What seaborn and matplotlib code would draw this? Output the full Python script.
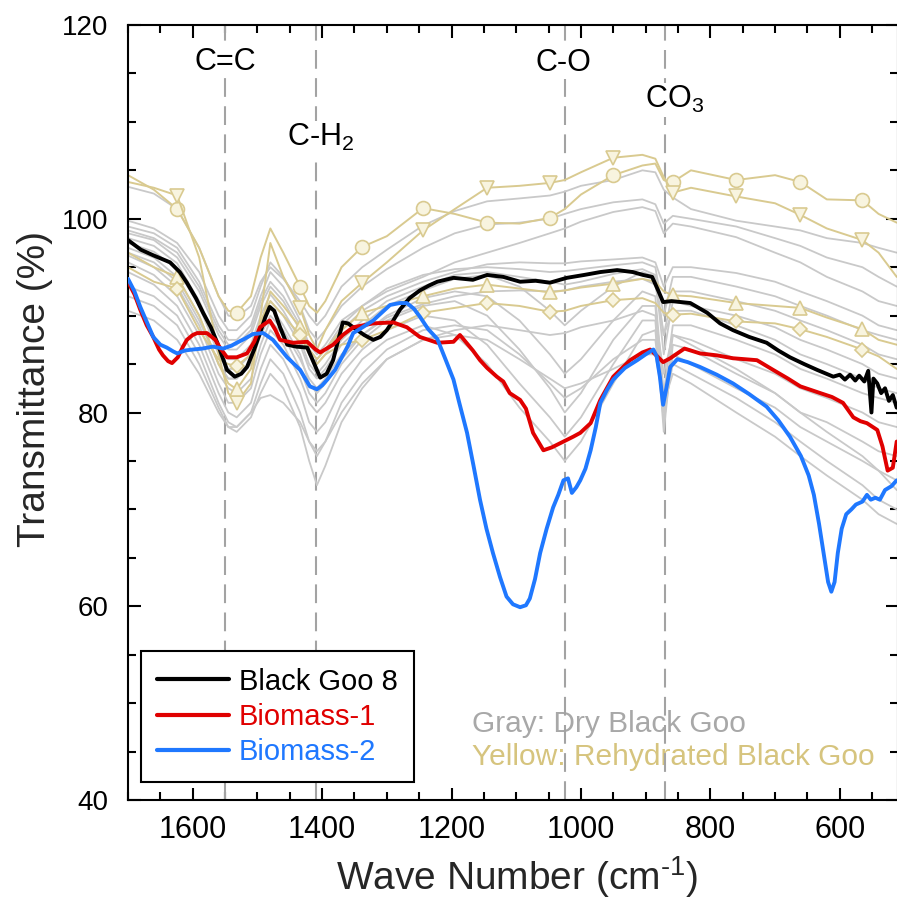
import matplotlib
matplotlib.use('Agg')
import matplotlib.pyplot as plt
from matplotlib import font_manager
from matplotlib.lines import Line2D
from matplotlib.ticker import MultipleLocator
import seaborn as sns

# wavenumber grid shared by the dry / rehydrated background spectra
wn = [1700, 1660, 1624, 1590, 1560, 1545, 1532, 1510, 1495, 1480, 1460, 1434, 1420, 1408, 1395, 1370,
      1338, 1300, 1244, 1195, 1145, 1095, 1048, 1025, 1000, 950, 905, 885, 872, 858, 830, 760, 700,
      661, 620, 565, 540, 512]
marker_wn = [1624, 1532, 1434, 1338, 1244, 1145, 1048, 950, 858, 760, 661, 565]

# Gray: dry black goo
dry_1 = [103.3, 102.6, 101.0, 97.0, 92.0, 90.0, 89.8, 91.0, 93.5, 95.0, 93.8, 91.5, 90.0, 89.0, 90.0, 93.0, 95.0, 96.8, 99.3, 100.8,
         101.8, 102.1, 102.4, 102.8, 103.4, 104.0, 105.0, 104.8, 103.0, 102.2, 101.0, 99.8, 99.2, 98.8, 98.0, 97.5, 97.0, 96.5]
dry_2 = [99.8, 99.0, 97.5, 94.5, 90.0, 88.5, 88.5, 90.0, 93.0, 95.5, 94.0, 91.0, 88.5, 87.5, 88.5, 91.0, 93.0, 94.8, 97.0, 98.5,
         99.4, 99.6, 100.0, 100.5, 101.0, 101.7, 102.0, 101.5, 99.5, 100.3, 100.0, 99.2, 98.0, 97.2, 96.0, 95.0, 94.0, 93.0]
dry_3 = [99.2, 98.5, 97.0, 93.5, 89.0, 87.5, 87.5, 89.0, 92.0, 94.5, 93.0, 89.5, 87.0, 86.0, 87.0, 89.5, 91.0, 92.5, 94.0, 95.5,
         96.5, 97.5, 98.5, 99.0, 99.7, 100.7, 101.2, 100.8, 98.5, 99.5, 99.2, 98.1, 96.5, 95.5, 94.0, 92.5, 91.5, 91.0]
dry_4 = [98.5, 97.8, 96.0, 92.5, 88.0, 86.5, 86.5, 88.0, 91.0, 93.0, 91.5, 88.5, 86.0, 85.0, 86.0, 88.5, 90.5, 92.0, 93.5, 94.5,
         95.3, 95.5, 95.4, 95.4, 95.6, 95.8, 96.0, 95.5, 93.0, 95.0, 95.0, 94.4, 93.5, 92.5, 91.5, 90.0, 89.0, 88.5]
dry_5 = [98.8, 98.0, 96.5, 93.0, 88.5, 87.0, 87.0, 88.5, 91.5, 93.5, 92.0, 89.0, 86.5, 85.5, 86.5, 89.0, 91.0, 92.8, 94.2, 94.8,
         95.0, 94.8, 94.5, 94.6, 94.8, 95.2, 95.5, 95.0, 90.0, 94.0, 94.0, 93.0, 92.0, 91.0, 90.0, 88.5, 88.0, 87.5]
dry_6 = [98.0, 97.2, 95.4, 91.5, 87.0, 85.5, 85.5, 87.0, 90.0, 92.2, 90.5, 87.5, 85.0, 84.0, 85.0, 87.5, 89.5, 91.5, 93.0, 94.2,
         94.5, 94.0, 93.5, 93.2, 93.5, 94.3, 94.8, 94.2, 88.0, 92.5, 92.5, 91.5, 90.5, 89.5, 88.5, 87.0, 86.0, 85.5]
dry_7 = [97.5, 96.6, 94.8, 91.0, 86.0, 84.5, 84.5, 86.0, 89.0, 91.5, 90.0, 87.0, 84.5, 83.5, 84.5, 87.0, 89.0, 91.0, 92.6, 93.8,
         94.2, 93.0, 90.5, 89.0, 90.5, 93.0, 94.5, 94.0, 86.0, 91.5, 91.0, 90.0, 88.8, 87.5, 86.5, 85.0, 84.0, 83.5]
dry_8 = [96.5, 95.5, 93.5, 89.5, 85.0, 83.5, 83.5, 85.0, 88.0, 90.0, 88.5, 85.5, 83.5, 82.5, 83.5, 86.0, 88.0, 89.8, 91.2, 92.0,
         92.5, 92.6, 92.5, 92.6, 93.0, 93.5, 93.8, 93.2, 88.0, 90.5, 90.5, 89.0, 87.5, 86.0, 85.0, 83.5, 82.5, 82.0]
dry_9 = [97.0, 96.0, 94.0, 90.0, 85.0, 83.5, 83.5, 85.0, 88.5, 91.0, 89.0, 86.0, 83.0, 82.0, 83.0, 85.5, 88.0, 90.0, 91.8, 92.5,
         92.0, 89.5, 86.0, 84.0, 85.5, 89.5, 92.5, 92.0, 82.0, 89.0, 89.0, 87.5, 86.0, 84.5, 83.5, 82.0, 81.5, 81.0]
dry_10 = [96.2, 95.0, 93.0, 89.0, 84.0, 82.5, 82.0, 83.5, 87.0, 89.5, 88.0, 84.5, 82.0, 81.0, 82.0, 85.0, 87.5, 89.5, 91.0, 91.5,
          90.0, 86.5, 82.5, 80.0, 82.0, 87.5, 91.0, 91.0, 80.0, 88.0, 87.5, 85.5, 84.0, 82.5, 81.5, 80.0, 79.0, 78.5]
dry_11 = [95.5, 94.2, 92.0, 88.0, 83.0, 81.0, 81.0, 82.5, 86.0, 88.5, 87.0, 83.5, 81.0, 80.0, 81.0, 84.0, 86.5, 88.5, 90.0, 89.5,
          87.0, 83.0, 79.5, 77.5, 79.5, 85.0, 89.5, 89.5, 78.0, 87.0, 86.5, 84.0, 82.0, 80.0, 79.0, 77.0, 76.0, 75.5]
dry_12 = [94.5, 93.2, 91.0, 87.0, 82.0, 80.0, 79.5, 81.0, 84.5, 87.0, 85.5, 82.0, 79.0, 78.0, 79.0, 82.5, 85.5, 87.5, 89.0, 88.0,
          85.0, 80.5, 77.0, 75.0, 77.0, 83.0, 88.0, 88.5, 79.0, 86.0, 85.0, 82.5, 80.5, 78.5, 77.0, 75.0, 74.0, 73.0]
dry_13 = [93.0, 92.0, 90.0, 86.0, 81.0, 79.0, 78.5, 80.0, 83.0, 85.5, 84.0, 80.0, 77.0, 75.5, 77.0, 81.0, 84.0, 86.5, 88.5, 89.0,
          88.5, 86.0, 83.0, 81.5, 82.5, 85.5, 87.5, 87.5, 80.0, 85.0, 84.0, 81.5, 79.0, 77.0, 75.0, 72.5, 71.0, 70.0]
dry_14 = [92.0, 91.0, 89.0, 85.0, 80.5, 78.5, 78.0, 79.5, 82.0, 84.0, 82.5, 78.5, 75.0, 72.5, 74.5, 79.0, 82.5, 85.5, 87.5, 88.0,
          87.5, 85.5, 83.5, 82.5, 83.0, 84.5, 86.0, 86.0, 81.0, 84.0, 83.0, 80.0, 77.5, 75.5, 73.5, 71.0, 69.5, 68.5]
dry_15 = [90.5, 89.5, 87.5, 84.0, 80.0, 78.5, 78.5, 80.0, 81.5, 81.8, 81.0, 79.0, 77.0, 76.0, 77.0, 80.0, 83.0, 85.5, 87.5, 88.5,
          89.0, 88.5, 88.0, 88.2, 88.8, 89.5, 90.5, 90.0, 84.0, 88.0, 87.0, 84.5, 82.0, 80.0, 78.0, 75.5, 74.0, 72.0]
dry_curves = [dry_1, dry_2, dry_3, dry_4, dry_5, dry_6, dry_7, dry_8, dry_9, dry_10,
              dry_11, dry_12, dry_13, dry_14, dry_15]

# Yellow: rehydrated black goo (one marker style each)
wet_circle = [104.5, 103.0, 101.0, 97.0, 92.0, 90.5, 90.3, 92.0, 96.0, 99.0, 96.5, 93.0, 91.0, 90.3, 91.5, 95.0, 97.1, 98.2, 101.1, 100.5,
              99.6, 99.5, 100.1, 101.0, 102.5, 104.5, 105.5, 105.7, 104.0, 103.8, 105.0, 104.0, 104.5, 103.8, 102.0, 101.9, 100.5, 99.6]
wet_tri_down = [103.8, 103.2, 102.4, 96.0, 86.0, 82.0, 81.0, 83.0, 90.0, 97.5, 94.0, 90.8, 88.0, 86.5, 88.5, 91.5, 93.4, 95.5, 98.8, 101.0,
                103.2, 103.4, 103.7, 104.0, 104.8, 106.3, 106.6, 106.2, 104.3, 102.7, 103.2, 102.3, 101.6, 100.4, 99.0, 97.8, 96.5, 94.0]
wet_tri_up = [96.5, 95.0, 94.0, 90.0, 85.0, 83.0, 82.4, 84.5, 89.0, 92.5, 91.0, 88.8, 86.5, 85.5, 86.5, 88.5, 90.3, 91.0, 92.0, 92.8,
              93.2, 92.8, 92.4, 92.6, 92.9, 93.3, 93.8, 93.5, 92.5, 92.1, 92.0, 91.3, 91.0, 90.8, 89.8, 88.6, 87.5, 87.0]
wet_diamond = [95.0, 93.5, 92.8, 88.5, 85.5, 85.0, 84.8, 86.0, 89.5, 91.5, 90.0, 88.0, 86.0, 85.0, 86.0, 87.0, 87.5, 88.5, 90.3, 90.8,
               91.3, 91.0, 90.4, 90.5, 91.0, 91.6, 91.8, 91.3, 90.3, 90.1, 90.2, 89.4, 89.2, 88.6, 87.8, 86.5, 85.8, 84.5]

# Black Goo 8
goo8_wn = [1700, 1680, 1660, 1635, 1620, 1609, 1595, 1584, 1572, 1562, 1547, 1535, 1525, 1516, 1505, 1496, 1488, 1481,
           1474, 1465, 1454, 1440, 1423, 1412, 1403, 1393, 1383, 1375, 1368, 1360, 1352, 1335, 1321, 1310, 1300, 1290,
           1280, 1265, 1249, 1235, 1222, 1197, 1167, 1145, 1120, 1094, 1070, 1048, 1022, 995, 970, 944, 920, 904, 890,
           880, 873, 860, 831, 805, 785, 765, 740, 713, 695, 677, 655, 635, 610, 600, 592, 584, 576, 570, 562, 556, 551,
           548, 542, 536, 530, 524, 518, 512]
goo8 = [97.8, 96.8, 96.2, 95.5, 94.5, 93.4, 91.8, 90.3, 88.8, 87.2, 84.4, 83.7, 84.0, 84.7, 86.5, 88.2, 89.8, 90.9,
        90.5, 88.8, 87.0, 86.8, 86.7, 85.0, 83.6, 84.0, 85.4, 87.5, 89.3, 89.2, 88.8, 88.0, 87.5, 87.8, 88.5, 89.5,
        90.6, 91.8, 92.6, 93.1, 93.5, 93.9, 93.7, 94.2, 94.0, 93.5, 93.6, 93.4, 93.9, 94.2, 94.5, 94.7, 94.5, 94.2, 94.0,
        92.5, 91.4, 91.5, 91.3, 90.3, 89.2, 88.5, 87.8, 87.2, 86.4, 85.7, 85.0, 84.4, 83.7, 83.9, 83.4, 83.9, 83.3, 83.8,
        83.2, 84.3, 80.0, 83.5, 83.0, 82.0, 82.5, 81.2, 81.8, 80.5]

# Biomass-1
bio1_wn = [1700, 1690, 1681, 1671, 1661, 1652, 1646, 1638, 1632, 1623, 1615, 1609, 1600, 1593, 1578, 1565, 1558, 1547,
           1532, 1516, 1505, 1496, 1481, 1472, 1465, 1445, 1423, 1410, 1403, 1393, 1383, 1368, 1352, 1321, 1290, 1269,
           1249, 1222, 1197, 1187, 1177, 1167, 1156, 1145, 1130, 1120, 1110, 1094, 1085, 1074, 1058, 1045, 1027, 1012,
           1001, 985, 970, 950, 924, 905, 893, 882, 873, 862, 851, 840, 816, 790, 765, 728, 703, 680, 661, 630, 612, 595,
           579, 568, 558, 542, 534, 526, 518, 512]
bio1 = [93.5, 92.2, 90.6, 89.0, 87.8, 86.5, 85.9, 85.3, 85.1, 85.7, 86.8, 87.5, 88.0, 88.2, 88.2, 87.5, 86.7, 85.7,
        85.7, 86.1, 87.3, 88.8, 89.5, 88.5, 87.5, 87.2, 87.3, 86.5, 86.2, 86.6, 87.0, 88.0, 88.8, 89.2, 89.3, 88.8,
        87.8, 87.2, 87.3, 88.0, 87.2, 86.4, 85.4, 84.6, 83.7, 83.2, 82.0, 81.3, 80.4, 77.9, 76.1, 76.4, 77.0, 77.5,
        77.9, 78.9, 81.3, 83.7, 85.4, 86.2, 86.5, 85.8, 85.2, 85.6, 86.1, 86.6, 86.1, 85.9, 85.6, 85.4, 84.4, 83.5, 82.7,
        82.0, 81.6, 81.0, 79.5, 79.1, 78.9, 78.2, 76.5, 74.0, 74.3, 77.0]

# Biomass-2
bio2_wn = [1700, 1690, 1681, 1670, 1661, 1650, 1640, 1630, 1624, 1612, 1600, 1585, 1569, 1553, 1540, 1532, 1520, 1507,
           1491, 1476, 1465, 1454, 1434, 1419, 1408, 1400, 1392, 1380, 1372, 1360, 1352, 1335, 1321, 1308, 1295, 1280,
           1269, 1258, 1249, 1236, 1222, 1210, 1197, 1188, 1176, 1166, 1156, 1146, 1136, 1125, 1115, 1105, 1094, 1085,
           1079, 1071, 1063, 1053, 1043, 1035, 1027, 1020, 1014, 1007, 1001, 993, 985, 977, 970, 960, 950, 932, 913, 900,
           888, 883, 878, 873, 868, 862, 851, 835, 816, 790, 765, 740, 713, 695, 677, 660, 648, 640, 632, 625, 618, 613,
           608, 603, 597, 590, 582, 575, 565, 558, 552, 545, 538, 530, 520, 512]
bio2 = [93.8, 92.5, 90.9, 89.2, 87.8, 87.0, 86.7, 86.3, 86.1, 86.4, 86.5, 86.6, 86.8, 86.6, 86.9, 87.2, 87.6, 88.1,
        88.2, 87.5, 86.6, 85.7, 84.4, 82.7, 82.4, 82.8, 83.4, 84.4, 85.4, 86.9, 88.2, 88.9, 89.5, 90.3, 91.1, 91.3,
        91.3, 90.7, 89.9, 88.6, 87.6, 85.6, 83.4, 81.0, 77.9, 74.5, 71.0, 68.0, 65.5, 63.0, 61.0, 60.2, 59.9, 60.1,
        60.8, 62.8, 65.5, 68.0, 70.2, 71.5, 73.0, 73.2, 71.7, 72.3, 73.0, 74.2, 76.1, 78.5, 81.0, 82.3, 83.4, 84.6, 85.4, 86.0,
        86.5, 85.8, 83.7, 80.8, 82.5, 84.7, 85.5, 85.2, 84.7, 83.9, 83.0, 81.9, 80.6, 79.2, 77.5, 75.5, 73.5, 71.5, 68.5, 65.5, 62.5, 61.5,
        62.5, 65.5, 68.0, 69.5, 70.0, 70.5, 70.8, 71.5, 71.0, 71.2, 71.0, 72.0, 72.4, 73.0]

# band assignments
band_pos = [1550, 1410, 1025, 870]
band_labels = ['C=C', 'C-H$_2$', 'C-O', 'CO$_3$']
band_label_x = [1550, 1402, 1027, 856]
band_label_y = [115.4, 107.5, 115.3, 111.4]

sns.set_theme(style='ticks')
plt.rcParams['font.family'] = ['Liberation Sans', 'DejaVu Sans']
plt.rcParams['mathtext.fontset'] = 'custom'
plt.rcParams['mathtext.rm'] = 'Liberation Sans'
plt.rcParams['mathtext.default'] = 'regular'

installed = {f.name for f in font_manager.fontManager.ttflist}
narrow = 'Liberation Sans Narrow' if 'Liberation Sans Narrow' in installed else 'Liberation Sans'

fig = plt.figure(figsize=(8.97, 9.10), dpi=100)
ax = fig.add_axes([0.1427, 0.1209, 0.8584, 0.8516])

gray = '#c9c9c9'
yellow = '#d9ca90'
for ys in dry_curves:
    sns.lineplot(x=wn, y=ys, ax=ax, color=gray, lw=1.3, sort=False, estimator=None, zorder=2)

marks = [wn.index(w) for w in marker_wn]
for ys, m, ms in [(wet_circle, 'o', 10), (wet_tri_down, 'v', 10), (wet_tri_up, '^', 10), (wet_diamond, 'D', 7)]:
    sns.lineplot(x=wn, y=ys, ax=ax, color=yellow, lw=1.4, sort=False, estimator=None, zorder=2.2,
                 marker=m, markevery=marks, ms=ms, mfc='#f8f4df', mec='#d9ca90', mew=1.2)

main = [(goo8_wn, goo8, 'black', 'Black Goo 8'),
        (bio1_wn, bio1, '#e00000', 'Biomass-1'),
        (bio2_wn, bio2, '#1f78ff', 'Biomass-2')]
for xs, ys, c, lab in main:
    sns.lineplot(x=xs, y=ys, ax=ax, color=c, lw=2.8, sort=False, estimator=None, zorder=3)

for x in band_pos:
    ax.axvline(x, color='#a3a3a3', lw=1.5, ls=(0, (9, 4.5)), zorder=1.5)
for x, y, t in zip(band_label_x, band_label_y, band_labels):
    ax.text(x, y, t, ha='center', va='baseline', fontsize=22, color='black', zorder=1.8,
            bbox=dict(facecolor='white', edgecolor='none', pad=1))

ax.text(1168, 47.0, 'Gray: Dry Black Goo', fontsize=21.5, color='#a8a8a8', ha='left', va='baseline', zorder=1)
ax.text(1168, 43.6, 'Yellow: Rehydrated Black Goo', fontsize=21.5, color='#d6c47e', ha='left', va='baseline', zorder=1)

handles = [Line2D([], [], color=c, lw=3) for _, _, c, _ in main]
labels = [lab for _, _, _, lab in main]
leg = ax.legend(handles, labels, loc='lower left', bbox_to_anchor=(0.017, 0.023), borderaxespad=0,
                fontsize=21, frameon=True, fancybox=False, framealpha=1, edgecolor='black',
                handlelength=2.45, handletextpad=0.35, labelspacing=0.25, borderpad=0.55,
                labelcolor='linecolor')
leg.get_frame().set_linewidth(1.5)

ax.set_xlim(1700, 510)
ax.set_ylim(40, 120)
ax.xaxis.set_major_locator(MultipleLocator(200))
ax.xaxis.set_minor_locator(MultipleLocator(50))
ax.yaxis.set_major_locator(MultipleLocator(20))
ax.yaxis.set_minor_locator(MultipleLocator(5))
ax.tick_params(which='both', direction='in', top=True, right=True, width=1.5, colors='black')
ax.tick_params(which='major', length=9)
ax.tick_params(which='minor', length=5.5)
ax.tick_params(axis='y', labelsize=20, pad=14)
ax.tick_params(axis='x', pad=11)
for lbl in ax.get_xticklabels():
    lbl.set_family(narrow)
    lbl.set_fontsize(22)
for s in ax.spines.values():
    s.set_linewidth(1.5)
    s.set_color('black')

ax.set_xlabel('Wave Number (cm$^{\\text{-}1}$)', fontsize=28)
ax.set_ylabel('Transmittance (%)', fontsize=28)
ax.xaxis.set_label_coords(0.505, -0.07)
ax.yaxis.set_label_coords(-0.097, 0.53)

fig.savefig('out.png', dpi=100)
